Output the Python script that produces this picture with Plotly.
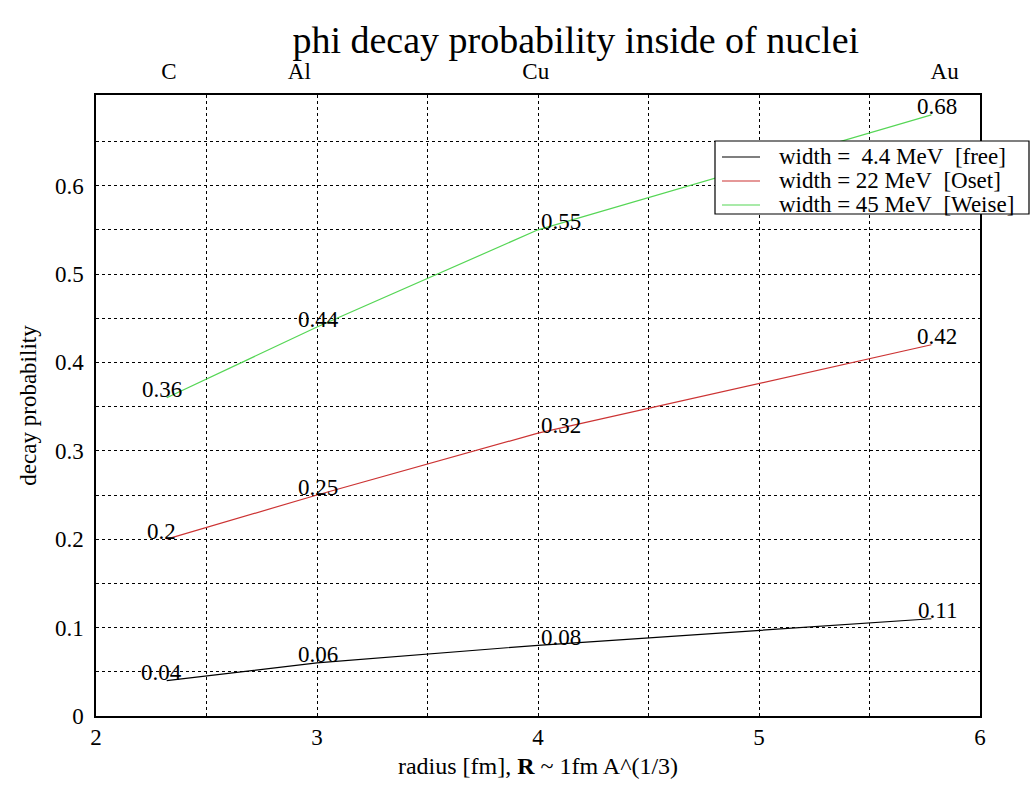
import plotly.graph_objects as go

# data
radius = [2.32, 3.0, 4.0, 5.78]          # nuclear radius [fm]
prob_free = [0.04, 0.06, 0.08, 0.11]
prob_oset = [0.20, 0.25, 0.32, 0.42]
prob_weise = [0.36, 0.44, 0.55, 0.68]
series_names = ["width =\u00a0 4.4 MeV\u00a0 [free]",
                "width = 22 MeV\u00a0 [Oset]",
                "width = 45 MeV\u00a0 [Weise]"]
series_colors = ["#000000", "#cc3333", "#55d655"]
nuclei = ["C", "Al", "Cu", "Au"]
nuclei_pos = [2.33, 2.92, 3.99, 5.84]
x_ticks = [2, 2.5, 3, 3.5, 4, 4.5, 5, 5.5, 6]
x_ticktext = ["2", "", "3", "", "4", "", "5", "", "6"]
y_ticks = [0, 0.05, 0.1, 0.15, 0.2, 0.25, 0.3, 0.35, 0.4, 0.45, 0.5, 0.55, 0.6, 0.65]
y_ticktext = ["0", "", "0.1", "", "0.2", "", "0.3", "", "0.4", "", "0.5", "", "0.6", ""]

FONT = "Liberation Serif, Times New Roman, serif"
label_xshift = [-5, 1, 23, 6]

# plot area in pixels (for placing the hand-drawn legend box)
W, H = 1030, 801
ML, MR, MT, MB = 96, 50, 95, 85
PW, PH = W - ML - MR, H - MT - MB


def px(xp):
    return (xp - ML) / PW


def py(yp):
    return (H - MB - yp) / PH


fig = go.Figure()
for name, ys, col in zip(series_names, [prob_free, prob_oset, prob_weise], series_colors):
    fig.add_trace(go.Scatter(x=radius, y=ys, mode="lines", name=name, showlegend=False,
                             line=dict(color=col, width=1.2), hoverinfo="skip"))
    for xv, yv, xs in zip(radius, ys, label_xshift):
        fig.add_annotation(x=xv, y=yv, xref="x", yref="y", text=f"{yv:g}",
                           showarrow=False, xshift=xs, yshift=8,
                           font=dict(family=FONT, size=23, color="black"))

# invisible trace for top axis
fig.add_trace(go.Scatter(x=nuclei_pos, y=[None] * len(nuclei_pos), xaxis="x2",
                         mode="lines", showlegend=False, hoverinfo="skip"))

# legend box (drawn by hand for the tight row spacing)
fig.add_shape(type="rect", xref="paper", yref="paper",
              x0=px(715), x1=px(1029), y0=py(214), y1=py(141),
              fillcolor="white", line=dict(color="black", width=1.2), layer="above")
row_y = [156, 180, 204]
for name, col, ry in zip(series_names, series_colors, row_y):
    fig.add_shape(type="line", xref="paper", yref="paper",
                  x0=px(722), x1=px(760), y0=py(ry + 1), y1=py(ry + 1),
                  line=dict(color=col, width=1.2), layer="above")
    fig.add_annotation(x=px(777), y=py(ry), xref="paper", yref="paper",
                       xanchor="left", yanchor="middle", text=name, showarrow=False,
                       font=dict(family=FONT, size=23, color="black"))

fig.update_layout(
    width=W, height=H,
    margin=dict(l=ML, r=MR, t=MT, b=MB),
    paper_bgcolor="white", plot_bgcolor="white",
    font=dict(family=FONT, size=23, color="black"),
    title=dict(text="phi decay probability inside of nuclei", x=0.559, xanchor="center",
               y=0.95, yanchor="middle", font=dict(family=FONT, size=38)),
    xaxis=dict(range=[2, 6], tickvals=x_ticks, ticktext=x_ticktext,
               showgrid=True, gridcolor="black", griddash="dot", gridwidth=1,
               showline=True, linecolor="black", linewidth=1.5, mirror=True,
               ticks="", zeroline=False, tickfont=dict(size=23),
               title=dict(text="radius [fm], <b>R</b> ~ 1fm A^(1/3)", standoff=8,
                          font=dict(family=FONT, size=24))),
    xaxis2=dict(range=[2, 6], overlaying="x", side="top", tickvals=nuclei_pos,
                ticktext=nuclei, showgrid=False, zeroline=False, ticks="",
                ticklabelstandoff=10, showline=False, tickfont=dict(size=23)),
    yaxis=dict(range=[0, 0.7025], tickvals=y_ticks, ticktext=y_ticktext,
               showgrid=True, gridcolor="black", griddash="dot", gridwidth=1,
               showline=True, linecolor="black", linewidth=1.5, mirror=True,
               ticks="", zeroline=False, ticklabelstandoff=6, tickfont=dict(size=23),
               title=dict(text="decay probability", standoff=12,
                          font=dict(family=FONT, size=23))),
    showlegend=False,
)

fig.write_html("out.html")
